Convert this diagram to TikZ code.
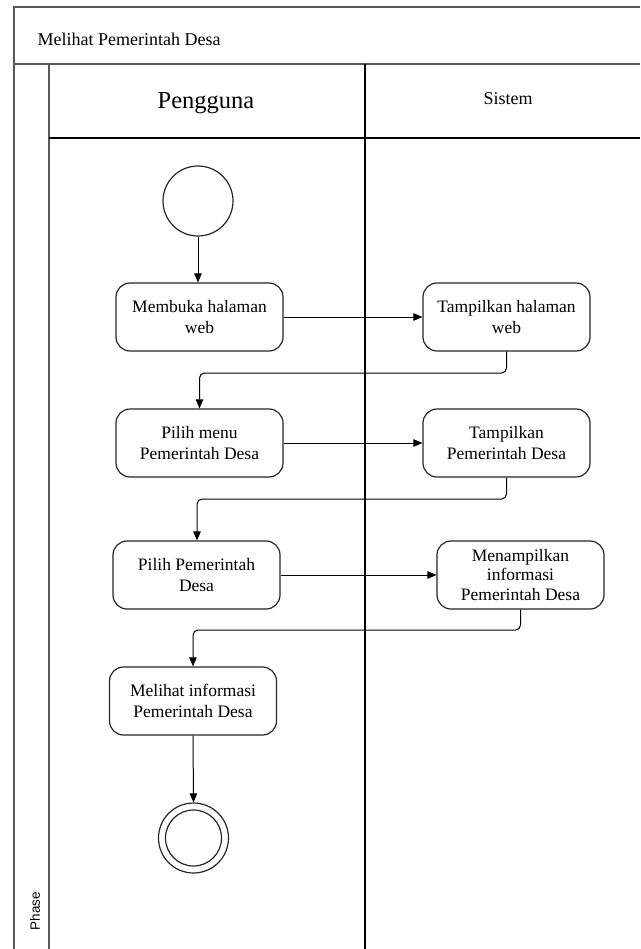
\documentclass[tikz,border=0pt]{standalone}
\usepackage{fontspec}
\setmainfont{Liberation Serif}
\newfontfamily\phasefont{Liberation Sans}
\usetikzlibrary{arrows.meta}
\tikzset{
  frame/.style={line width=1.4pt, draw=black!65},
  lane/.style={line width=1.1pt, draw=black},
  act/.style={draw=black!85, line width=1.2pt, rounded corners=14pt, minimum width=167pt, minimum height=68pt, inner sep=0pt, align=center, font=\fontsize{17.5}{21}\selectfont, fill=white},
  flow/.style={draw=black, line width=1pt, rounded corners=5pt, -{Triangle[length=9pt,width=7.5pt]}},
}
\begin{document}
\begin{tikzpicture}[x=1pt,y=-1pt]
\useasboundingbox (0,0) rectangle (640,949);
% swimlane frame
\draw[frame] (640,7) -- (14,7) -- (14,949);
\draw[frame] (14,64) -- (640,64);
\draw[frame] (49,64) -- (49,949);
\draw[lane] (49,138) -- (640,138);
\draw[lane] (365,64) -- (365,949);
\node[anchor=west, font=\fontsize{18}{20}\selectfont] (title) at (34,39) {Melihat Pemerintah Desa};
\node[font=\fontsize{24.5}{26}\selectfont] (pengguna) at (206,103) {Pengguna};
\node[font=\fontsize{18}{20}\selectfont] (sistem) at (508,99) {Sistem};
\node[rotate=90, font=\phasefont\fontsize{13.5}{15}\selectfont] (phase) at (35,911) {Phase};
% nodes
\node[circle, draw=black!85, line width=1.2pt, minimum size=70pt, inner sep=0pt] (start) at (198,201) {};
\node[act] (b1) at (199.5,317) {Membuka halaman\\web};
\node[act] (b2) at (506.5,317) {Tampilkan halaman\\web};
\node[act] (b3) at (199.5,443) {Pilih menu\\Pemerintah Desa};
\node[act] (b4) at (506.5,443) {Tampilkan\\Pemerintah Desa};
\node[act] (b5) at (196.5,575) {Pilih Pemerintah\\Desa};
\node[act, font=\fontsize{17.5}{19.5}\selectfont] (b6) at (520.5,575) {Menampilkan\\informasi\\Pemerintah Desa};
\node[act] (b7) at (193,701) {Melihat informasi\\Pemerintah Desa};
\node[circle, draw=black!85, line width=1.2pt, minimum size=70pt, inner sep=0pt] (end) at (193.5,838) {};
\node[circle, draw=black!85, line width=1.2pt, minimum size=56pt, inner sep=0pt] (endin) at (end.center) {};
% connectors
\coordinate (m1) at (0,373);
\coordinate (m2) at (0,499);
\coordinate (m3) at (0,630);
\draw[flow] (start.south) -- (start.south |- b1.north);
\draw[flow] (b1.east) -- (b2.west);
\draw[flow] (b2.south) -- (b2.south |- m1) -- (b3.north |- m1) -- (b3.north);
\draw[flow] (b3.east) -- (b4.west);
\draw[flow] (b4.south) -- (b4.south |- m2) -- ([xshift=0.5pt]b5.north |- m2) -- ([xshift=0.5pt]b5.north);
\draw[flow] (b5.east) -- (b6.west);
\draw[flow] (b6.south) -- (b6.south |- m3) -- (b7.north |- m3) -- (b7.north);
\draw[flow] (b7.south) -- (end.north);
\end{tikzpicture}
\end{document}
